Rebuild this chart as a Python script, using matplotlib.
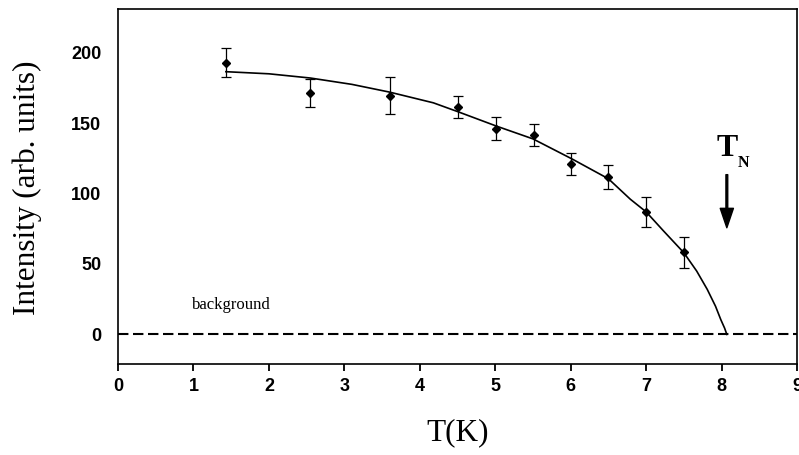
import matplotlib
matplotlib.use('Agg')
import matplotlib.pyplot as plt

# measured points
temps = [1.43, 2.54, 3.61, 4.51, 5.01, 5.51, 6.01, 6.50, 7.00, 7.50]
intensity = [193, 171.5, 169.5, 161.5, 146, 141.5, 121, 111.5, 87, 58.5]
errors = [10, 10, 13, 8, 8, 8, 7.5, 8.5, 10.5, 11]

# fit curve
fit_t = [1.43, 2.0, 2.55, 3.1, 3.6, 4.18, 4.51, 5.02, 5.5, 6.02, 6.5, 6.79,
         7.0, 7.23, 7.5, 7.67, 7.81, 7.92, 7.99, 8.04, 8.07]
fit_i = [186.5, 185.0, 182.0, 177.5, 172.0, 164.4, 158.0, 147.8, 138.8, 124.5,
         110.5, 96.0, 87.0, 73.5, 58.0, 45.0, 32.0, 20.0, 10.5, 4.5, 0.0]

bg_t = [0, 9]
bg_i = [0, 0]
t_neel = 8.07

xticks = list(range(0, 10))
yticks = [0, 50, 100, 150, 200]

fig = plt.figure(figsize=(7.99, 4.55), dpi=100)
ax = fig.add_axes([118 / 799, 1 - 364 / 455, (797 - 118) / 799, (364 - 9) / 455])

ax.plot(bg_t, bg_i, color='black', lw=1.5, linestyle=(0, (5, 2.2)))
ax.plot(fit_t, fit_i, color='black', lw=1.2)
ax.errorbar(temps, intensity, yerr=errors, fmt='D', color='black', ms=4.3,
            ecolor='black', elinewidth=0.9, capsize=3.5, capthick=0.9)

ax.set_xlim(0, 9)
ax.set_ylim(-21, 231)
ax.set_xticks(xticks)
ax.set_yticks(yticks)
for lab in ax.get_xticklabels() + ax.get_yticklabels():
    lab.set_fontfamily('Liberation Sans')
    lab.set_fontweight('bold')
    lab.set_fontsize(13)
ax.tick_params(axis='x', direction='out', length=5, width=1.3, pad=5)
ax.tick_params(axis='y', length=0, pad=12)
for sp in ax.spines.values():
    sp.set_linewidth(1.2)

ax.text(0.98, 21, 'background', family='Liberation Serif', fontsize=12,
        va='center', ha='left')

ax.annotate('', xy=(t_neel, 75.7), xytext=(t_neel, 113.4),
            arrowprops=dict(facecolor='black', edgecolor='black', width=1.3,
                            headwidth=9.5, headlength=14, shrink=0))
ax.text(7.93, 126.5, 'T', family='Liberation Serif', fontweight='bold',
        fontsize=23, va='baseline', ha='left')
ax.text(8.22, 119.1, 'N', family='Liberation Serif', fontweight='bold',
        fontsize=11.5, va='baseline', ha='left')

fig.text(27 / 799, 1 - 188 / 455, 'Intensity (arb. units)', rotation=90,
         family='Liberation Serif', fontsize=22.5, ha='center', va='center')
fig.text(458 / 799, 1 - 433 / 455, 'T(K)', family='Liberation Serif',
         fontsize=22.5, ha='center', va='center')

fig.savefig('out.png', dpi=100)
